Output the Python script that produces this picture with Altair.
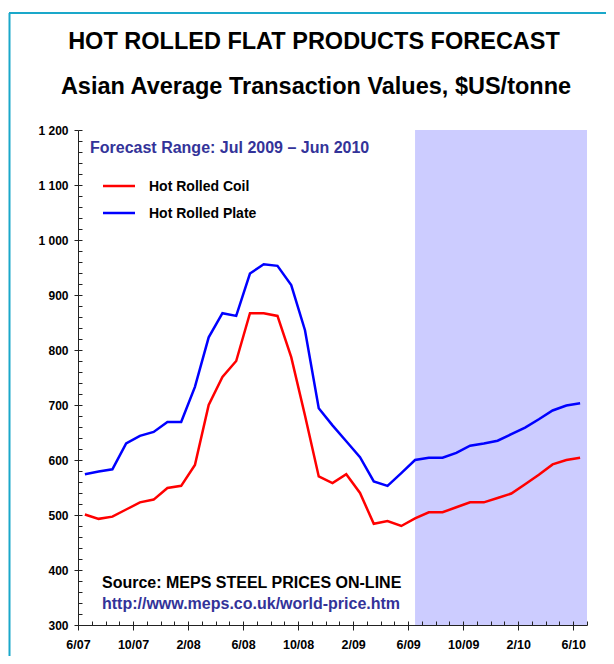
import json
import altair as alt
import pandas as pd

FONT = "Liberation Sans"

# ---- data (monthly, Jun 2007 .. Jun 2010) ----
months = [p.strftime("%b %Y") for p in pd.period_range("2007-06", "2010-06", freq="M")]
series_names = ["Hot Rolled Coil", "Hot Rolled Plate"]
coil = [501, 493, 497, 510, 523, 528, 549, 553, 591, 700, 751, 780, 867, 867, 862, 787,
        681, 570, 558, 574, 540, 484, 489, 480, 494, 505, 505, 514, 523, 523, 531, 539,
        556, 573, 592, 600, 604]
plate = [574, 579, 583, 630, 644, 651, 669, 669, 733, 823, 867, 862, 939, 956, 953, 918,
         836, 694, 663, 634, 605, 561, 553, 576, 600, 604, 604, 613, 626, 630, 635, 647,
         659, 674, 690, 699, 703]
x_tick_labels = ["6/07", "10/07", "2/08", "6/08", "10/08", "2/09", "6/09", "10/09", "2/10", "6/10"]
forecast_from = "Jun 2009"

n = len(months)
df = pd.DataFrame({
    "month": months * 2,
    "pos": [i + 0.5 for i in range(n)] * 2,
    "value": coil + plate,
    "series": [series_names[0]] * n + [series_names[1]] * n,
})
forecast = pd.DataFrame({"start": [months.index(forecast_from) + 0.5], "end": [n]})

xs = alt.Scale(domain=[0, n], nice=False, zero=False)
ys = alt.Scale(domain=[300, 1200], nice=False, zero=False)

common = dict(grid=False, title=None, labelFont=FONT, labelFontWeight="bold",
              labelColor="black", domainColor="#222222", tickColor="#222222",
              zindex=1)

major_x = alt.Axis(values=list(range(0, n, 4)), orient="bottom",
                   labelExpr=json.dumps(x_tick_labels) + "[round(datum.value / 4)]",
                   tickSize=5, labelPadding=8, labelFontSize=12.5, domain=True,
                   labelFlush=False, labelOverlap=False, **common)
minor_x = alt.Axis(values=list(range(0, n + 1)), orient="bottom", labels=False,
                   tickSize=4, offset=-4, domain=False, **common)
major_y = alt.Axis(values=list(range(300, 1201, 100)), orient="left",
                   labelExpr="replace(format(datum.value, ','), ',', ' ')",
                   tickSize=4, labelPadding=6, labelFontSize=12, domain=True, **common)
minor_y = alt.Axis(values=list(range(300, 1201, 20)), orient="left", labels=False,
                   tickSize=4, offset=-4, domain=False, **common)

rect = alt.Chart(forecast).mark_rect(color="#CCCCFF").encode(
    x=alt.X("start:Q", scale=xs, axis=minor_x),
    x2="end:Q",
    y=alt.YDatum(300, type="quantitative", scale=ys, axis=minor_y),
    y2=alt.Y2Datum(1200),
)

lines = alt.Chart(df).mark_line(strokeWidth=2.5).encode(
    x=alt.X("pos:Q", scale=xs, axis=major_x),
    y=alt.Y("value:Q", scale=ys, axis=major_y),
    color=alt.Color("series:N", scale=alt.Scale(domain=series_names, range=["#FF0000", "#0000FF"]),
                    legend=None),
)

one = pd.DataFrame({"k": [0]})


def label(text, x, y, size, color="black", align="left"):
    return alt.Chart(pd.DataFrame({"t": [text]})).mark_text(
        align=align, baseline="middle", fontSize=size, fontWeight="bold", font=FONT, color=color
    ).encode(text="t:N", x=alt.value(x), y=alt.value(y))


def hline(x1, x2, y, color, width):
    return alt.Chart(one).mark_rule(color=color, strokeWidth=width).encode(
        x=alt.value(x1), x2=alt.value(x2), y=alt.value(y))


def vline(x, y1, y2, color, width):
    return alt.Chart(one).mark_rule(color=color, strokeWidth=width).encode(
        x=alt.value(x), y=alt.value(y1), y2=alt.value(y2))


layers = [
    rect,
    lines,
    hline(25, 57, 56, "#FF0000", 2.5),
    hline(25, 57, 83, "#0000FF", 2.5),
    label(series_names[0], 71, 57, 14),
    label(series_names[1], 71, 84, 14),
    label("Forecast Range: Jul 2009 \u2013 Jun 2010", 12, 18, 16, color="#333399"),
    label("Source: MEPS STEEL PRICES ON-LINE", 24, 453, 16),
    label("http://www.meps.co.uk/world-price.htm", 24, 474, 16, color="#333399"),
    label("HOT ROLLED FLAT PRODUCTS FORECAST", 236, -88, 23.5, align="center"),
    label("Asian Average Transaction Values, $US/tonne", 238, -43, 23.5, align="center"),
    hline(-69, 530, -117, "#1AA8CA", 2),
    vline(-68.5, -117, 540, "#1AA8CA", 2),
]

chart = alt.layer(*layers).resolve_axis(x="independent", y="independent").properties(
    width=509, height=495,
    padding={"left": 70, "top": 122, "right": 19, "bottom": 31},
    autosize=alt.AutoSizeParams(type="none"),
    background="white",
).configure_view(stroke=None)

chart.save("out.html", embed_options={"renderer": "svg", "actions": False})
